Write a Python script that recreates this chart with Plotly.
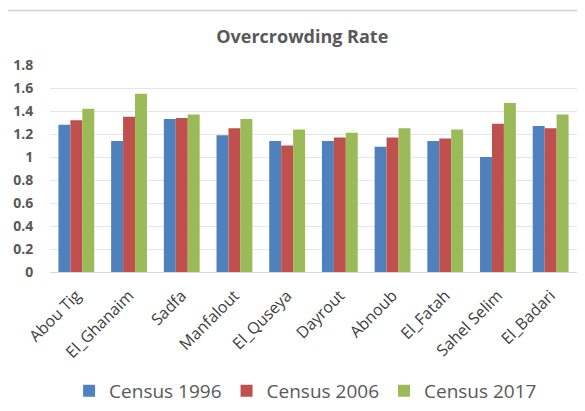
import plotly.graph_objects as go

districts = ['Abou Tig', 'El_Ghanaim', 'Sadfa', 'Manfalout', 'El_Quseya',
             'Dayrout', 'Abnoub', 'El_Fatah', 'Sahel Selim', 'El_Badari']
census_1996 = [1.28, 1.14, 1.33, 1.19, 1.14, 1.14, 1.09, 1.14, 1.00, 1.27]
census_2006 = [1.32, 1.35, 1.34, 1.25, 1.10, 1.17, 1.17, 1.16, 1.29, 1.25]
census_2017 = [1.42, 1.55, 1.37, 1.33, 1.24, 1.21, 1.25, 1.24, 1.47, 1.37]
y_ticks = [0, 0.2, 0.4, 0.6, 0.8, 1, 1.2, 1.4, 1.6, 1.8]
y_tick_text = ['<b>%s</b>' % t for t in
               ['0', '0.2', '0.4', '0.6', '0.8', '1', '1.2', '1.4', '1.6', '1.8']]

FONT = "Open Sans, Liberation Sans, sans-serif"
TEXT = '#595959'

series = [
    ('Census 1996', census_1996, '#4F81BD'),
    ('Census 2006', census_2006, '#C0504D'),
    ('Census 2017', census_2017, '#9BBB59'),
]

fig = go.Figure()
for name, vals, col in series:
    fig.add_trace(go.Bar(
        x=districts, y=vals, name=name,
        marker_color=col, marker_line_width=0
    ))

# page body adds an 8px margin, so the figure is a bit smaller than the window
fig.update_layout(
    width=577, height=403,
    barmode='group', bargap=0.32, bargroupgap=0,
    paper_bgcolor='white', plot_bgcolor='white',
    margin={'l': 42, 'r': 8, 't': 57, 'b': 139},
    font={'family': FONT, 'color': TEXT},
    title={
        'text': '<b>Overcrowding Rate</b>',
        'font': {'size': 18, 'color': TEXT, 'family': FONT},
        'x': 0.51, 'xanchor': 'center', 'y': 0.93, 'yanchor': 'middle'
    },
    legend={
        'orientation': 'h', 'x': 0.485, 'xanchor': 'center',
        'yref': 'container', 'y': 0.097, 'yanchor': 'top',
        'font': {'size': 19, 'color': TEXT},
        'itemwidth': 30, 'traceorder': 'normal'
    },
    showlegend=True,
)

fig.update_xaxes(
    tickangle=-45, tickfont={'size': 16, 'color': '#404040'},
    showline=True, linecolor='#D9D9D9', linewidth=1,
    showgrid=False, ticks='outside', ticklen=7, tickcolor='white',
    automargin=False
)
fig.update_yaxes(
    range=[0, 1.8], tickvals=y_ticks, ticktext=y_tick_text,
    tickfont={'size': 14, 'color': TEXT, 'family': FONT},
    gridcolor='#E6E6E6', gridwidth=1, zeroline=False,
    showline=False, ticks='outside', ticklen=13, tickcolor='white',
    automargin=False
)

# outer chart frame, as in the pasted office chart
fig.add_shape(
    type='rect', xref='paper', yref='paper',
    x0=-0.083, x1=1.03, y0=-0.75, y1=1.263,
    line={'color': '#CFCFCF', 'width': 1.5}, fillcolor='rgba(0,0,0,0)',
    layer='below'
)

fig.write_html("out.html")
